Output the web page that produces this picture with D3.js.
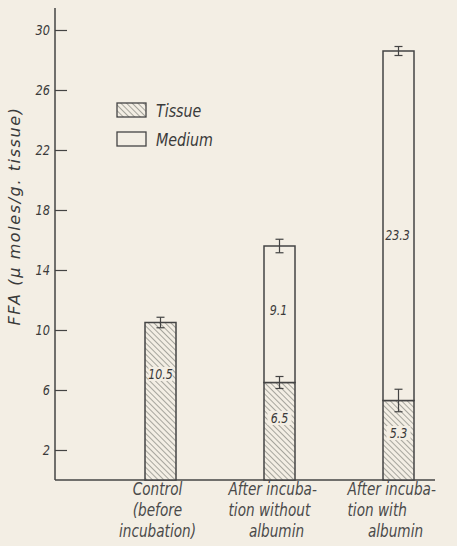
<!DOCTYPE html>
<html><head><meta charset="utf-8">
<script src="https://cdn.jsdelivr.net/npm/d3@7"></script>
<style>
html,body{margin:0;padding:0;background:#f3eee4;}
svg{display:block;}
text{font-family:"DejaVu Sans Condensed","DejaVu Sans",sans-serif;font-style:italic;fill:#3a3a3a;}
</style></head>
<body><svg id="c" width="457" height="546"></svg>
<script>
const categories = ["Control", "Without albumin", "With albumin"];
const categoryLabels = [
  ["Control", "(before", "incubation)"],
  ["After incuba-", "tion without", "albumin"],
  ["After incuba-", "tion with", "albumin"]
];
const tissue = [10.5, 6.5, 5.3];
const medium = [0, 9.1, 23.3];
const tissueErr = [0.35, 0.4, 0.75];
const totalErr = [0, 0.45, 0.3];
const yTicks = [2, 6, 10, 14, 18, 22, 26, 30];
const series = ["Tissue", "Medium"];

const svg = d3.select("#c");
const ink = "#444";
const bg = "#f3eee4";

const defs = svg.append("defs");
const pat = defs.append("pattern").attr("id","hatch").attr("patternUnits","userSpaceOnUse")
  .attr("width",4).attr("height",4).attr("patternTransform","rotate(-45)");
pat.append("rect").attr("width",4).attr("height",4).attr("fill",bg);
pat.append("line").attr("x1",0).attr("y1",0).attr("x2",0).attr("y2",4)
  .attr("stroke","#85857f").attr("stroke-width",1.4);

const y = d3.scaleLinear().domain([0,30]).range([480,30]);
const x = d3.scalePoint().domain(categories).range([101,458]).padding(0.5);
const bw = 31;
const axisX = 55;

svg.append("line").attr("x1",axisX).attr("x2",axisX).attr("y1",8).attr("y2",y(0))
  .attr("stroke",ink).attr("stroke-width",1.5);
svg.append("line").attr("x1",axisX).attr("x2",435).attr("y1",y(0)).attr("y2",y(0))
  .attr("stroke",ink).attr("stroke-width",1.5);

const ax = svg.append("g").attr("transform",`translate(${axisX},0)`)
  .call(d3.axisRight(y).tickValues(yTicks).tickSize(12).tickFormat(""));
ax.select(".domain").remove();
ax.selectAll(".tick line").attr("stroke",ink).attr("stroke-width",1.2);
svg.selectAll(".ytl").data(yTicks).join("text").attr("class","ytl")
  .attr("transform",d=>`translate(${axisX-5},${y(d)+5}) scale(0.9,1)`).attr("text-anchor","end")
  .attr("font-size",14).text(d=>d);

svg.append("text").attr("transform","translate(20,216) rotate(-90)")
  .attr("text-anchor","middle").attr("font-size",16).attr("letter-spacing",1.6)
  .style("font-family","'DejaVu Sans',sans-serif")
  .text("FFA (\u03bc moles/g. tissue)");

const g = svg.append("g");
categories.forEach((c,i)=>{
  const cx = x(c);
  const x0 = cx - bw/2;
  g.append("rect").attr("x",x0).attr("width",bw).attr("y",y(tissue[i])).attr("height",y(0)-y(tissue[i]))
    .attr("fill","url(#hatch)").attr("stroke",ink).attr("stroke-width",1.5);
  if (medium[i] > 0) {
    const top = tissue[i]+medium[i];
    g.append("rect").attr("x",x0).attr("width",bw).attr("y",y(top)).attr("height",y(tissue[i])-y(top))
      .attr("fill",bg).attr("stroke",ink).attr("stroke-width",1.5);
  }
});

function valLabel(cx, cy, txt, clear){
  const t = svg.append("text").attr("transform",`translate(${cx},${cy+5}) scale(0.88,1)`)
    .attr("text-anchor","middle").attr("font-size",14).text(txt);
  if (clear){
    svg.insert("rect", () => t.node()).attr("x",cx-12).attr("y",cy-7).attr("width",24).attr("height",14)
      .attr("fill",bg);
  }
}
categories.forEach((c,i)=>{
  const cx = x(c);
  valLabel(cx, [374, 418, 433][i], String(tissue[i]), true);
  if (medium[i] > 0) valLabel(cx - 1, [0,310,235][i], medium[i].toFixed(1), false);
});

function errBar(cx, v, e){
  if (e<=0) return;
  const gg = svg.append("g").attr("stroke",ink).attr("stroke-width",1.2);
  gg.append("line").attr("x1",cx).attr("x2",cx).attr("y1",y(v+e)).attr("y2",y(v-e));
  gg.append("line").attr("x1",cx-4).attr("x2",cx+4).attr("y1",y(v+e)).attr("y2",y(v+e));
  gg.append("line").attr("x1",cx-4).attr("x2",cx+4).attr("y1",y(v-e)).attr("y2",y(v-e));
}
categories.forEach((c,i)=>{
  errBar(x(c), tissue[i], tissueErr[i]);
  if (medium[i]>0) errBar(x(c), tissue[i]+medium[i], totalErr[i]);
});

// category labels: first category centred; others hanging-indent style
categories.forEach((c,i)=>{
  categoryLabels[i].forEach((line,j)=>{
    let lx, anchor;
    if (i===0) { lx = x(c)-3; anchor = "middle"; }
    else if (j<2) { lx = x(c)-51; anchor = "start"; }
    else { lx = x(c)-3; anchor = "middle"; }
    svg.append("text").attr("transform",`translate(${lx},${495+j*21}) scale(0.82,1)`)
      .attr("text-anchor",anchor).attr("font-size",18.5).style("fill","#4a4a4a").text(line);
  });
});

const leg = svg.append("g");
series.forEach((s,i)=>{
  const ly = 103 + i*29;
  leg.append("rect").attr("x",117).attr("y",ly).attr("width",29).attr("height",14)
    .attr("fill", i===0 ? "url(#hatch)" : bg).attr("stroke",ink).attr("stroke-width",1.3);
  leg.append("text").attr("transform",`translate(156,${ly+14}) scale(0.88,1)`)
    .attr("font-size",18).text(s);
});
</script></body></html>
